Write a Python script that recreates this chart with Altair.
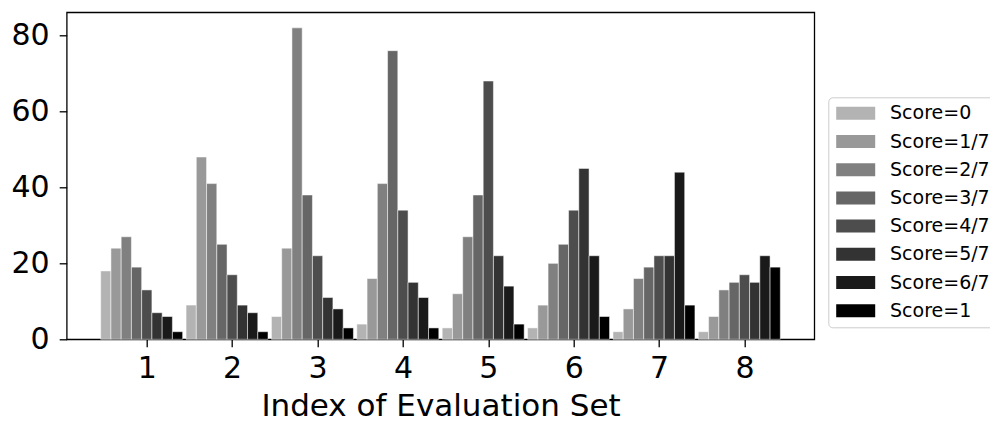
import altair as alt
import pandas as pd

# ---- data ----
sets = [1, 2, 3, 4, 5, 6, 7, 8]
score_labels = ["Score=0", "Score=1/7", "Score=2/7", "Score=3/7",
                "Score=4/7", "Score=5/7", "Score=6/7", "Score=1"]
score_0 = [18, 9, 6, 4, 3, 3, 2, 2]
score_1_7 = [24, 48, 24, 16, 12, 9, 8, 6]
score_2_7 = [27, 41, 82, 41, 27, 20, 16, 13]
score_3_7 = [19, 25, 38, 76, 38, 25, 19, 15]
score_4_7 = [13, 17, 22, 34, 68, 34, 22, 17]
score_5_7 = [7, 9, 11, 15, 22, 45, 22, 15]
score_6_7 = [6, 7, 8, 11, 14, 22, 44, 22]
score_1 = [2, 2, 3, 3, 4, 6, 9, 19]
series = [score_0, score_1_7, score_2_7, score_3_7,
          score_4_7, score_5_7, score_6_7, score_1]
grays = ["#b3b3b3", "#999999", "#808080", "#666666",
         "#4d4d4d", "#333333", "#1a1a1a", "#000000"]

rows = []
for k, (lab, vals) in enumerate(zip(score_labels, series)):
    for s, v in zip(sets, vals):
        rows.append({"set": s, "k": k, "score": lab, "count": v})
df = pd.DataFrame(rows)

FONT = "DejaVu Sans"
BW = 0.12

chart = (
    alt.Chart(df)
    .transform_calculate(
        x0=f"datum.set + (datum.k - 4) * {BW} - {BW / 2}",
        x1=f"datum.set + (datum.k - 4) * {BW} + {BW / 2}",
    )
    .mark_bar(stroke="white", strokeWidth=0.5)
    .encode(
        x=alt.X(
            "x0:Q",
            scale=alt.Scale(domain=[0.062, 8.818], nice=False, zero=False),
            axis=alt.Axis(
                values=sets, title="Index of Evaluation Set", grid=False,
                domain=False, tickSize=7.5, tickWidth=1.3, tickColor="black",
                labelFontSize=30, labelFont=FONT, labelColor="black",
                labelPadding=7, titleFont=FONT, titleFontSize=31,
                titleFontWeight="normal", titleColor="black", titlePadding=8,
                format="d",
            ),
        ),
        x2="x1:Q",
        y=alt.Y(
            "count:Q",
            scale=alt.Scale(domain=[0, 86.1], nice=False),
            axis=alt.Axis(
                values=[0, 20, 40, 60, 80], title=None, grid=False,
                domain=False, tickSize=7.5, tickWidth=1.3, tickColor="black",
                labelFontSize=30, labelFont=FONT, labelColor="black",
                labelPadding=10,
            ),
        ),
        y2=alt.datum(0),
        color=alt.Color(
            "score:N",
            scale=alt.Scale(domain=score_labels, range=grays),
            legend=alt.Legend(
                title=None, orient="none", legendX=761.6, legendY=85,
                symbolType="M-3,-1H3V1H-3Z", symbolSize=169,
                symbolStrokeWidth=0, symbolOffset=11.4, labelOffset=24.8,
                labelFont=FONT, labelFontSize=19, labelColor="black",
                labelLimit=300, padding=6.5, rowPadding=8.2,
                strokeColor="#cccccc", fillColor="white", cornerRadius=4,
            ),
        ),
    )
    .properties(
        width=747.6, height=327,
        padding={"left": 66.7, "top": 12.3, "right": 175.7, "bottom": 82.7},
        autosize=alt.AutoSizeParams(type="none"),
    )
    .configure(background="white")
    .configure_view(stroke="black", strokeWidth=1.3)
)

chart.save("out.html", embed_options={"renderer": "svg", "actions": False})
